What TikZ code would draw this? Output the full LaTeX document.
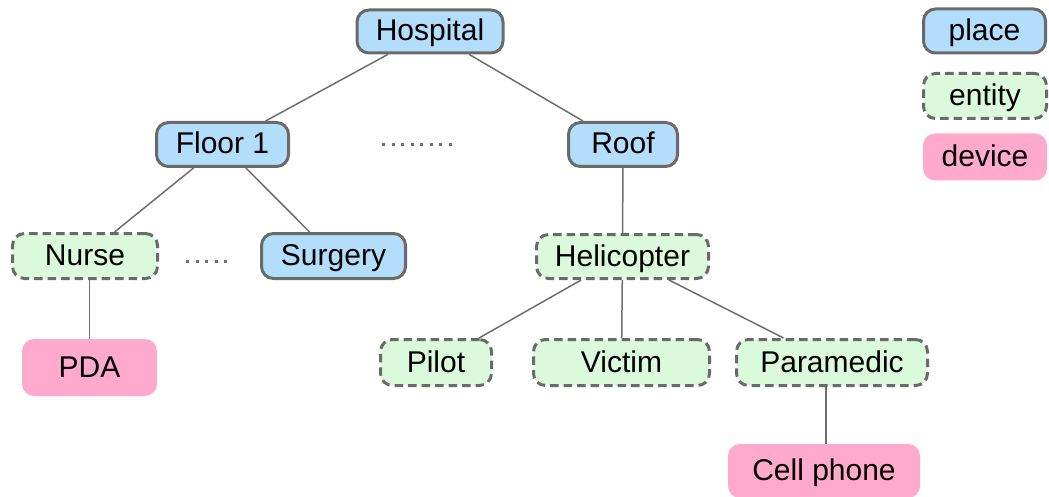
\documentclass[tikz,border=0pt]{standalone}
\usepackage{fontspec}
\setmainfont{Liberation Sans}
\begin{document}
\begin{tikzpicture}[x=1pt,y=-1pt,
  base/.style={rounded corners=12pt, inner sep=0pt, text=black,
    text height=25pt, text depth=6pt,
    font=\fontsize{30}{33}\selectfont},
  place/.style={base, draw=borderGray, line width=3pt, fill=placeBlue},
  entity/.style={base, draw=borderGray, line width=3pt, fill=entityGreen,
    dash pattern=on 8.5pt off 5pt},
  device/.style={base, fill=devicePink},
  link/.style={draw=linkGray, line width=1.5pt},
  gapdots/.style={draw=linkGray, line width=3pt, dash pattern=on 3pt off 6.5pt},
]
\definecolor{placeBlue}{HTML}{B3DEFB}
\definecolor{entityGreen}{HTML}{DAFADB}
\definecolor{devicePink}{HTML}{FFAACD}
\definecolor{borderGray}{HTML}{6A6A6A}
\definecolor{linkGray}{HTML}{6E6E6E}
\useasboundingbox (0,0) rectangle (1049,497);

% places
\node[place, minimum width=146pt, minimum height=43pt] (hospital) at (430,31.5) {Hospital};
\node[place, minimum width=132pt, minimum height=44pt] (floor1) at (222.5,144.5) {Floor 1};
\node[place, minimum width=109pt, minimum height=44pt] (roof) at (623,144.5) {Roof};
\node[place, minimum width=144pt, minimum height=45pt] (surgery) at (333.5,256) {Surgery};

% entities
\node[entity, minimum width=145pt, minimum height=45pt] (nurse) at (85,256) {Nurse};
\node[entity, minimum width=172pt, minimum height=44pt] (heli) at (622.5,256.5) {Helicopter};
\node[entity, minimum width=111pt, minimum height=46pt] (pilot) at (436,362.5) {Pilot};
\node[entity, minimum width=176pt, minimum height=46pt] (victim) at (621.5,362.5) {Victim};
\node[entity, minimum width=191pt, minimum height=46pt] (paramedic) at (832,362.5) {Paramedic};

% devices
\node[device, minimum width=135pt, minimum height=57pt] (pda) at (89.5,367.5) {PDA};
\node[device, minimum width=192pt, minimum height=54pt] (cell) at (824,471) {Cell phone};

% legend
\node[place, minimum width=122pt, minimum height=44pt] (legPlace) at (984.5,31) {place};
\node[entity, minimum width=123pt, minimum height=45pt] (legEntity) at (985,96) {entity};
\node[device, minimum width=124pt, minimum height=47pt] (legDevice) at (985,157) {device};

% hierarchy links
\path[link] (hospital) -- (floor1);
\path[link] (hospital) -- (roof);
\path[link] (floor1) -- (nurse);
\path[link] (floor1) -- (surgery);
\path[link] (roof) -- (heli);
\path[link] (nurse.south -| pda.north) -- (pda);
\path[link] (heli) -- (pilot);
\path[link] (heli) -- (victim);
\path[link] (heli) -- (paramedic);
\path[link] (cell.north -| 826,0) -- (paramedic.south -| 826,0);

% elided siblings
\coordinate (dotsA1) at (382,145);
\coordinate (dotsA2) at (456,145);
\coordinate (dotsB1) at (186,261.5);
\coordinate (dotsB2) at (232,261.5);
\path[gapdots] (dotsA1) -- (dotsA2);
\path[gapdots] (dotsB1) -- (dotsB2);
\end{tikzpicture}
\end{document}
